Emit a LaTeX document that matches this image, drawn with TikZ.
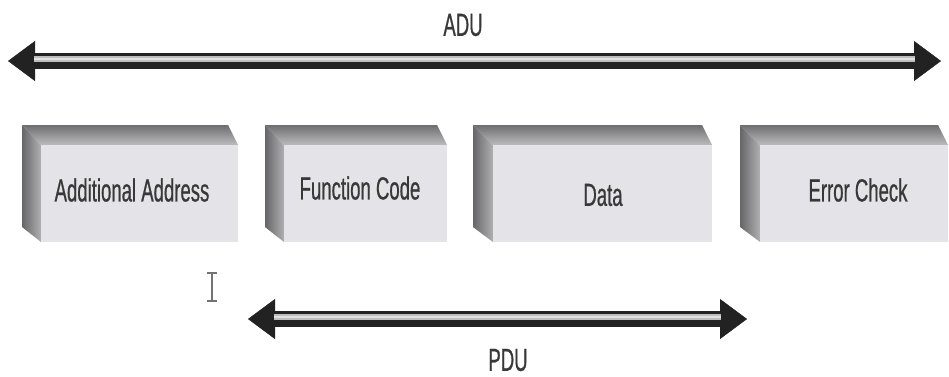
\documentclass[tikz,border=0pt]{standalone}
\usepackage{fontspec}
\usetikzlibrary{arrows.meta}
\newfontfamily\narrowsans[FakeStretch=0.58,FakeBold=0.6]{Liberation Sans}

\definecolor{bevtop}{HTML}{6E6E70}
\definecolor{bevtopb}{HTML}{BCBCBE}
\definecolor{bevleft}{HTML}{666668}
\definecolor{bevleftb}{HTML}{B0B0B2}
\definecolor{facecol}{HTML}{E4E4E8}
\definecolor{txtcol}{HTML}{383838}
\definecolor{busdark}{HTML}{222222}
\definecolor{busband}{HTML}{BDBDBD}
\definecolor{busshine}{HTML}{E2E2E2}

% bevelled block: outer left, front left, right edge
\newcommand\bevelbox[3]{%
  \shade[top color=bevtop, bottom color=bevtopb]
    (#1,125) -- (#3-10,125) -- (#3,145) -- (#2,145) -- cycle;
  \shade[left color=bevleft, right color=bevleftb]
    (#1,125) -- (#2,145) -- (#2,242) -- (#1,227) -- cycle;
  \fill[facecol] (#2,145) rectangle (#3,242);
}

\tikzset{
  lbl/.style={font=\narrowsans\fontsize{32}{36}\selectfont, text=txtcol, inner sep=0pt},
  bustips/.style={draw=busdark, fill=busdark, line width=0.4pt,
    {Triangle[length=27pt,width=40pt]}-{Triangle[length=27pt,width=40pt]}},
  busbody/.style={draw=busdark, line width=16pt, shorten <=24pt, shorten >=24pt},
  busband/.style={draw=busband, line width=6pt, shorten <=26pt, shorten >=26pt,
    transform canvas={yshift=2pt}},
  busshine/.style={draw=busshine, line width=2pt, shorten <=26pt, shorten >=26pt,
    transform canvas={yshift=2pt}},
  cursor/.style={draw=black!55, line width=1.2pt}
}

\begin{document}
\begin{tikzpicture}[x=1pt,y=-1pt]
\useasboundingbox (0,0) rectangle (949,376);
\fill[white] (0,0) rectangle (949,376);

% frame blocks
\bevelbox{22}{41}{238}
\bevelbox{265}{284}{447}
\bevelbox{473}{493}{712}
\bevelbox{740}{760}{948}

\node[lbl] (addr) at (132,190) {Additional Address};
\node[lbl] (func) at (360,188) {Function Code};
\node[lbl] (data) at (603,195) {Data};
\node[lbl] (err)  at (858,190) {Error Check};

% ADU span
\coordinate (adul) at (8,61);
\coordinate (adur) at (941,61);
\draw[bustips] (adul) -- (adur);
\draw[busbody] (adul) -- (adur);
\draw[busband] (adul) -- (adur);
\draw[busshine] (adul) -- (adur);
\node[lbl] (adu) at (463,25) {ADU};

% PDU span
\coordinate (pdul) at (248,319);
\coordinate (pdur) at (747,319);
\draw[bustips] (pdul) -- (pdur);
\draw[busbody] (pdul) -- (pdur);
\draw[busband] (pdul) -- (pdur);
\draw[busshine] (pdul) -- (pdur);
\node[lbl] (pdu) at (508,360) {PDU};

% text cursor
\draw[cursor] (207,273) -- (217,273) (212,273) -- (212,301) (207,301) -- (217,301);
\end{tikzpicture}
\end{document}
